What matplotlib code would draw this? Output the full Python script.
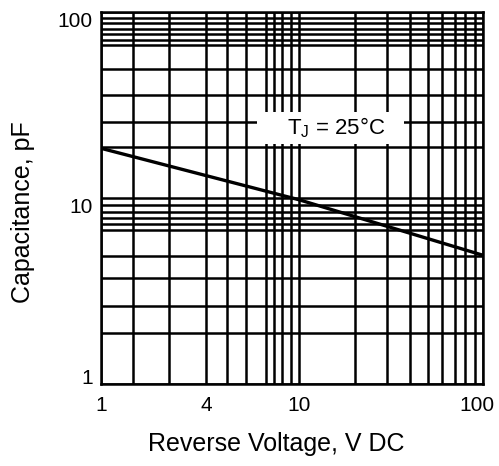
import numpy as np
import matplotlib
matplotlib.use("Agg")
import matplotlib.pyplot as plt
import matplotlib.transforms as mtransforms
from matplotlib.patches import Rectangle
from matplotlib.ticker import FixedLocator, NullFormatter

# ---- data ----
voltage = [1, 10, 100]
capacitance = [18.45, 9.76, 4.91]

x_major = [1, 4, 10, 100]
x_major_labels = ["1", "4", "10", "100"]
x_grid = [1.53, 2.45, 4.92, 5.93, 7.22, 7.82, 8.46, 9.25,
          20, 30, 40, 50, 60, 70, 80, 90]

y_major = [1, 10, 100]
y_major_labels = ["1", "10", "100"]
y_grid = [1.89, 2.63, 3.71, 4.85, 6.68, 7.27, 7.83, 8.42, 9.18,
          18.7, 25.5, 35.7, 48.9, 66.5, 70.8, 75.4, 80.2, 86.5, 92.1]

annotation = "T$_\\mathregular{J}$ = 25°C"
xlabel = "Reverse Voltage, V DC"
ylabel = "Capacitance, pF"

# ---- x scale of the reference: log-like, first decade unevenly stretched ----
_anch_log = [0.0, np.log10(4.0), 1.0, 2.0]
_anch_pos = [0.0, 105.0, 198.0, 382.0]

def _fwd(x):
    x = np.maximum(np.asarray(x, dtype=float), 1e-6)
    return np.interp(np.log10(x), _anch_log, _anch_pos)

def _inv(p):
    p = np.asarray(p, dtype=float)
    return 10 ** np.interp(p, _anch_pos, _anch_log)

plt.rcParams['font.family'] = ['Liberation Sans', 'DejaVu Sans']

fig = plt.figure(figsize=(4.99, 4.66), dpi=100)
ax = fig.add_axes([0.2024, 0.176, 0.766, 0.799])

ax.set_xscale('function', functions=(_fwd, _inv))
ax.set_yscale('log')
ax.set_xlim(1, 100)
ax.set_ylim(1, 100)

ax.set_xticks(x_major, x_major_labels)
ax.xaxis.set_minor_locator(FixedLocator(x_grid))
ax.xaxis.set_minor_formatter(NullFormatter())

ax.set_yticks(y_major, y_major_labels)
ax.yaxis.set_minor_locator(FixedLocator(y_grid))
ax.yaxis.set_minor_formatter(NullFormatter())

ax.grid(which='both', color='black', linewidth=1.8)
ax.tick_params(which='both', length=0)
ax.tick_params(axis='x', pad=9, labelsize=15)
ax.tick_params(axis='y', pad=6, labelsize=15)
for s in ax.spines.values():
    s.set_linewidth(1.8)

# label placement as in the reference
xl = ax.get_xticklabels()[-1]
xl.set_transform(xl.get_transform() +
                 mtransforms.ScaledTranslation(-6 / 100, 0, fig.dpi_scale_trans))
ylbls = ax.get_yticklabels()
ylbls[0].set_va('baseline')
ylbls[1].set_va('top')
ylbls[2].set_va('top')

ax.plot(voltage, capacitance, color='black', linewidth=2.4, zorder=3)

# white label box that blanks out the grid
ax.add_patch(Rectangle((0.408, 0.6446), 0.385, 0.086, transform=ax.transAxes,
                       facecolor='white', edgecolor='none', zorder=3.5))
ax.text(0.615, 0.688, annotation, transform=ax.transAxes, fontsize=16,
        ha='center', va='center', zorder=4)

ax.set_xlabel(xlabel, fontsize=18, va='top')
ax.xaxis.set_label_coords(0.458, -0.129)
ax.set_ylabel(ylabel, fontsize=18)
ax.yaxis.set_label_coords(-0.173, 0.462)

fig.savefig("out.png", dpi=100)
